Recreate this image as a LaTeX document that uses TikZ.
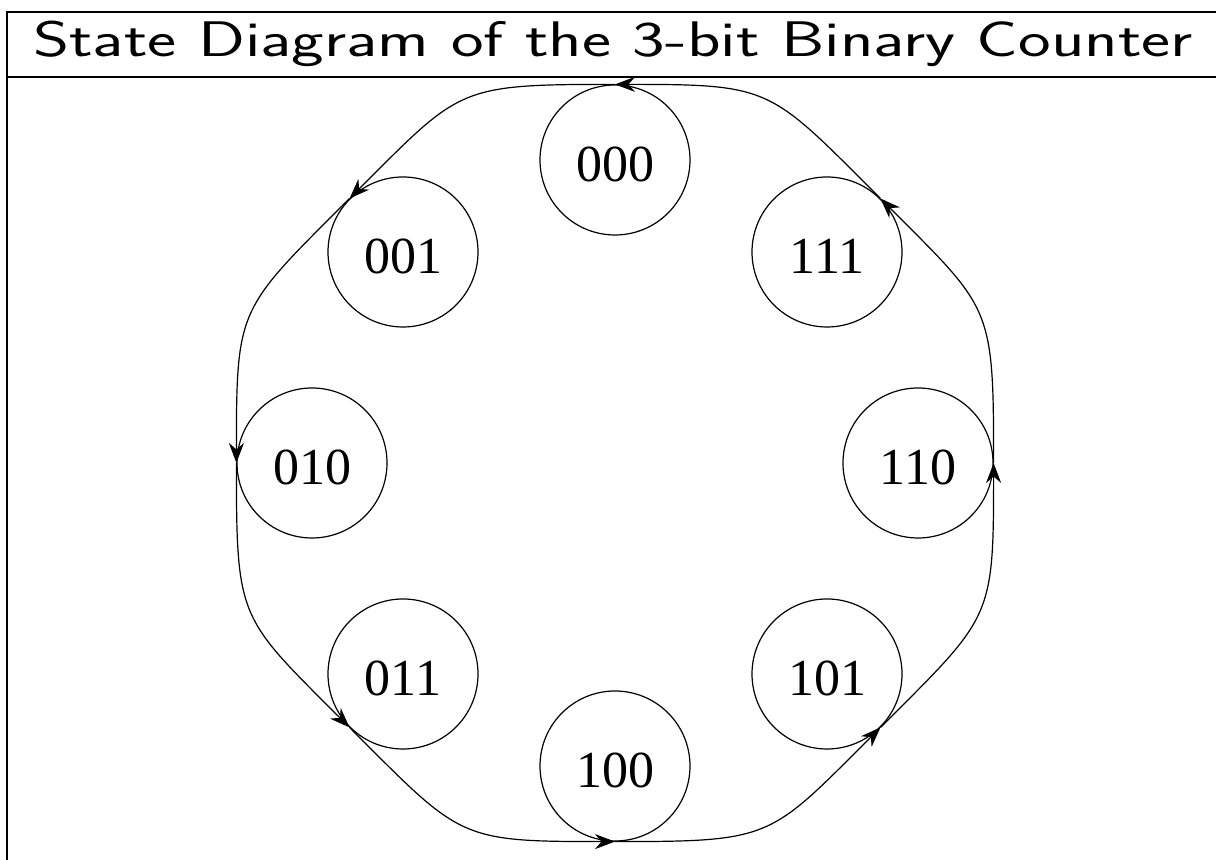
\documentclass[tikz,border=0pt]{standalone}
\usepackage{fontspec}
\setmainfont{Liberation Serif}
\usetikzlibrary{arrows.meta}
\begin{document}
\begin{tikzpicture}[x=0.5pt,y=0.5pt,
  state/.style={circle,draw,line width=0.6pt,minimum size=75pt,inner sep=0pt,
    text height=21.6pt,text depth=0pt,font=\fontsize{26}{30}\selectfont},
  trans/.style={line width=0.6pt,-{Stealth[length=10pt,width=7.5pt]},looseness=1.4},
  frame/.style={line width=1pt}]
\useasboundingbox (0,0) rectangle (1216,860);
\begin{scope}
\clip (0,0) rectangle (1216,860);
% title frame
\draw[frame] (1230,848) -- (7,848) -- (7,-20);
\draw[frame] (7,783) -- (1230,783);
\end{scope}
\node[anchor=base,inner sep=0pt] (title) at (613,803)
  {\scalebox{1.385}[1]{\fontsize{25}{30}\sffamily State Diagram of the 3-bit Binary Counter}};
% states
\node[state] (s000) at (615,700) {000};
\node[state] (s001) at (403,608) {001};
\node[state] (s010) at (312,397) {010};
\node[state] (s011) at (403,186) {011};
\node[state] (s100) at (615,94)  {100};
\node[state] (s101) at (827,186) {101};
\node[state] (s110) at (918,397) {110};
\node[state] (s111) at (827,608) {111};
% transitions
\draw[trans] (s000.north) to[out=180,in=45]  (s001.north west);
\draw[trans] (s001.north west) to[out=225,in=90] (s010.west);
\draw[trans] (s010.west) to[out=270,in=135] (s011.south west);
\draw[trans] (s011.south west) to[out=315,in=180] (s100.south);
\draw[trans] (s100.south) to[out=0,in=225] (s101.south east);
\draw[trans] (s101.south east) to[out=45,in=270] (s110.east);
\draw[trans] (s110.east) to[out=90,in=315] (s111.north east);
\draw[trans] (s111.north east) to[out=135,in=0] (s000.north);
\end{tikzpicture}
\end{document}
